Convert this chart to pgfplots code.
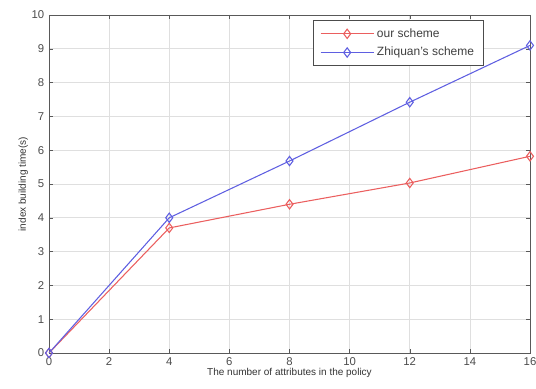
\documentclass[border=0pt]{standalone}
\usepackage{fontspec}
\setmainfont{Liberation Sans}
\usepackage{pgfplots}
\pgfplotsset{compat=1.18}
\definecolor{lred}{RGB}{235,95,95}
\definecolor{lblue}{RGB}{95,95,225}
\begin{document}
\begin{tikzpicture}
\begin{axis}[
  scale only axis,
  width=360.75pt, height=253.5pt,
  xmin=0, xmax=16, ymin=0, ymax=10,
  xtick={0,2,...,16}, ytick={0,1,...,10},
  grid=major,
  grid style={gray!25, line width=0.5pt},
  tick align=inside,
  axis line style={gray!70!black, line width=0.7pt},
  tick style={gray!70!black},
  major tick length=3pt,
  /pgf/number format/assume math mode=true,
  tick label style={font=\fontsize{8.5}{9}\selectfont, text=black!70},
  label style={font=\fontsize{7.5}{9}\selectfont, text=black!80},
  xlabel={The number of attributes in the policy},
  ylabel={index building time(s)},
  xlabel style={yshift=5pt},
  ylabel style={yshift=-4pt},
  legend style={at={(0.904,0.985)}, anchor=north east, font=\fontsize{9}{11}\selectfont, text=black!75, draw=black!70, line width=0.6pt, row sep=2pt, inner xsep=5pt, inner ysep=4pt},
  legend cell align=left,
  legend image code/.code={
    \draw[mark repeat=2,mark phase=2,#1] plot coordinates {(0cm,0cm) (0.7cm,0cm) (1.4cm,0cm)};
  },
]
\addplot[lred, line width=0.8pt, mark=diamond, mark size=3.5pt, mark options={solid}] coordinates {(0,0) (4,3.7) (8,4.4) (12,5.03) (16,5.82)};
\addlegendentry{our scheme}
\addplot[lblue, line width=0.8pt, mark=diamond, mark size=3.5pt, mark options={solid}] coordinates {(0,0) (4,4.0) (8,5.68) (12,7.42) (16,9.1)};
\addlegendentry{Zhiquan's scheme}
\end{axis}
\pgfresetboundingbox
\path[use as bounding box] ([shift={(-36.75pt,-27pt)}]current axis.south west) rectangle ([shift={(4.5pt,11.25pt)}]current axis.north east);
\end{tikzpicture}
\end{document}
